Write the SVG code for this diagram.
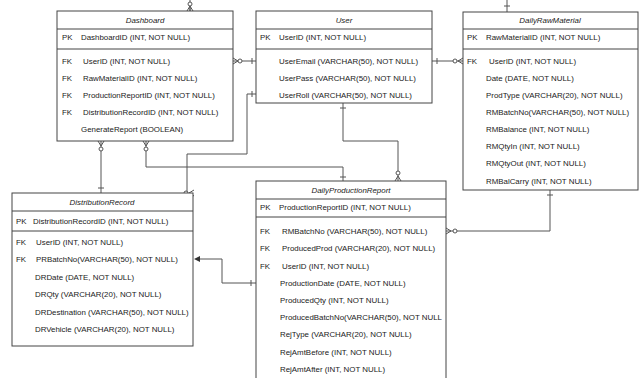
<svg xmlns="http://www.w3.org/2000/svg" width="640" height="378" viewBox="0 0 640 378">
<style>
.box{fill:#fff;stroke:#444;stroke-width:1}
.sep{stroke:#444;stroke-width:1}
text{font-family:"Liberation Sans",Arial,sans-serif;font-size:7.9px;fill:#222}
.t{font-style:italic;text-anchor:middle}
.ln{fill:none;stroke:#555;stroke-width:1}
.ci{fill:#fff;stroke:#555;stroke-width:1}
</style>
<rect width="640" height="378" fill="#fff"/>
<g id="connectors">
<!-- Dashboard top -->
<path class="ln" d="M190,0V11M187,11L190,6L193,11M190,6V11"/>
<circle class="ci" cx="190" cy="4" r="2"/>
<!-- DailyRawMaterial top -->
<path class="ln" d="M507,0V12M504,6H510"/>
<!-- Dashboard -> User -->
<path class="ln" d="M233,61H256M233,58L238,61L233,64M252,58V64"/>
<circle class="ci" cx="240" cy="61" r="2"/>
<!-- User -> DailyRawMaterial -->
<path class="ln" d="M432,61H463M437,58V64M463,58L458,61L463,64"/>
<circle class="ci" cx="455" cy="61" r="2"/>
<!-- User bottom -> DPR -->
<path class="ln" d="M343,103V141H398V181M340,108H346M395,181L398,176L401,181"/>
<circle class="ci" cx="398" cy="173" r="2"/>
<!-- User left -> DistributionRecord -->
<path class="ln" d="M256,94H247V154H187V193M252,91V97M194,190L189,193L194,196"/>
<circle class="ci" cx="186" cy="193" r="2"/>
<!-- Dashboard bottom -> DistributionRecord -->
<path class="ln" d="M101,141V193M98,141L101,146L104,141M98,188H104"/>
<circle class="ci" cx="101" cy="149" r="2"/>
<!-- Dashboard bottom -> DPR -->
<path class="ln" d="M146,141V167H343V181M143,141L146,146L149,141M340,177H346"/>
<circle class="ci" cx="146" cy="149" r="2"/>
<!-- DPR left -> DistributionRecord -->
<path class="ln" d="M256,283H222V259H199M251,280V286"/>
<path d="M194,259L200,256V262Z" fill="#333"/>
<!-- DPR right -> DailyRawMaterial bottom -->
<path class="ln" d="M446,231H550V190M446,228L451,231L446,234M547,195H553"/>
<circle class="ci" cx="455" cy="231" r="2"/>
</g>
<g id="Dashboard">
<rect class="box" x="57" y="11" width="176" height="130"/>
<line class="sep" x1="57" y1="29" x2="233" y2="29"/>
<line class="sep" x1="57" y1="49" x2="233" y2="49"/>
<text class="t" x="145" y="23">Dashboard</text>
<text x="62" y="40">PK</text><text x="81" y="40">DashboardID (INT, NOT NULL)</text>
<text x="62" y="64">FK</text><text x="83" y="64">UserID (INT, NOT NULL)</text>
<text x="62" y="81">FK</text><text x="83" y="81">RawMaterialID (INT, NOT NULL)</text>
<text x="62" y="98">FK</text><text x="83" y="98">ProductionReportID (INT, NOT NULL)</text>
<text x="62" y="115">FK</text><text x="83" y="115">DistributionRecordID (INT, NOT NULL)</text>
<text x="81" y="132">GenerateReport (BOOLEAN)</text>
</g>
<g id="User">
<rect class="box" x="256" y="11" width="176" height="92"/>
<line class="sep" x1="256" y1="29" x2="432" y2="29"/>
<line class="sep" x1="256" y1="49" x2="432" y2="49"/>
<text class="t" x="344" y="23">User</text>
<text x="260" y="40">PK</text><text x="279" y="40">UserID (INT, NOT NULL)</text>
<text x="279" y="64">UserEmail (VARCHAR(50), NOT NULL)</text>
<text x="279" y="81">UserPass (VARCHAR(50), NOT NULL)</text>
<text x="279" y="98">UserRoll (VARCHAR(50), NOT NULL)</text>
</g>
<g id="DailyRawMaterial">
<rect class="box" x="463" y="12" width="175" height="178"/>
<line class="sep" x1="463" y1="29" x2="638" y2="29"/>
<line class="sep" x1="463" y1="49" x2="638" y2="49"/>
<text class="t" x="550" y="23">DailyRawMaterial</text>
<text x="467" y="40">PK</text><text x="486" y="40">RawMaterialID (INT, NOT NULL)</text>
<text x="467" y="64">FK</text><text x="489" y="64">UserID (INT, NOT NULL)</text>
<text x="486" y="81">Date (DATE, NOT NULL)</text>
<text x="486" y="98">ProdType (VARCHAR(20), NOT NULL)</text>
<text x="486" y="115">RMBatchNo(VARCHAR(50), NOT NULL)</text>
<text x="486" y="132">RMBalance (INT, NOT NULL)</text>
<text x="486" y="149">RMQtyIn (INT, NOT NULL)</text>
<text x="486" y="166">RMQtyOut (INT, NOT NULL)</text>
<text x="486" y="184">RMBalCarry (INT, NOT NULL)</text>
</g>
<g id="DistributionRecord">
<rect class="box" x="12" y="193" width="181" height="153"/>
<line class="sep" x1="12" y1="211" x2="193" y2="211"/>
<line class="sep" x1="12" y1="231" x2="193" y2="231"/>
<text class="t" x="102" y="205">DistributionRecord</text>
<text x="16" y="224">PK</text><text x="33" y="224">DistributionRecordID (INT, NOT NULL)</text>
<text x="16" y="245">FK</text><text x="36" y="245">UserID (INT, NOT NULL)</text>
<text x="16" y="262">FK</text><text x="36" y="262">PRBatchNo(VARCHAR(50), NOT NULL)</text>
<text x="35" y="280">DRDate (DATE, NOT NULL)</text>
<text x="35" y="297">DRQty (VARCHAR(20), NOT NULL)</text>
<text x="35" y="315">DRDestination (VARCHAR(50), NOT NULL)</text>
<text x="35" y="332">DRVehicle (VARCHAR(20), NOT NULL)</text>
</g>
<g id="DailyProductionReport">
<rect class="box" x="256" y="181" width="190" height="210"/>
<line class="sep" x1="256" y1="199" x2="446" y2="199"/>
<line class="sep" x1="256" y1="217" x2="446" y2="217"/>
<text class="t" x="351" y="193">DailyProductionReport</text>
<text x="260" y="210">PK</text><text x="279" y="210">ProductionReportID (INT, NOT NULL)</text>
<text x="260" y="234">FK</text><text x="282" y="234">RMBatchNo (VARCHAR(50), NOT NULL)</text>
<text x="260" y="251">FK</text><text x="282" y="251">ProducedProd (VARCHAR(20), NOT NULL)</text>
<text x="260" y="269">FK</text><text x="282" y="269">UserID (INT, NOT NULL)</text>
<text x="280" y="286">ProductionDate (DATE, NOT NULL)</text>
<text x="280" y="303">ProducedQty (INT, NOT NULL)</text>
<text x="280" y="320">ProducedBatchNo(VARCHAR(50), NOT NULL</text>
<text x="280" y="337">RejType (VARCHAR(20), NOT NULL)</text>
<text x="280" y="355">RejAmtBefore (INT, NOT NULL)</text>
<text x="280" y="372">RejAmtAfter (INT, NOT NULL)</text>
</g>
</svg>
